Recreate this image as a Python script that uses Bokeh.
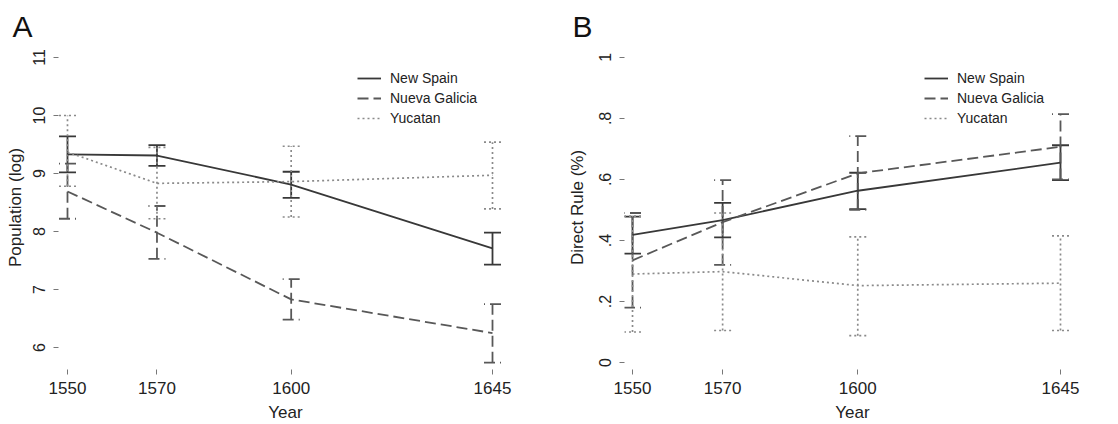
from bokeh.plotting import figure
from bokeh.layouts import row
from bokeh.models import ColumnDataSource, Whisker, TeeHead, FixedTicker, Legend, LegendItem, Range1d
from bokeh.embed import file_html
from bokeh.resources import INLINE

years = [1550, 1570, 1600, 1645]
series_names = ["New Spain", "Nueva Galicia", "Yucatan"]

# Panel A: Population (log)
pop_ns = [9.33, 9.31, 8.81, 7.71]
pop_ns_lo = [9.02, 9.13, 8.58, 7.43]
pop_ns_hi = [9.64, 9.49, 9.03, 7.98]
pop_ng = [8.69, 7.98, 6.83, 6.25]
pop_ng_lo = [8.22, 7.53, 6.48, 5.74]
pop_ng_hi = [9.17, 8.44, 7.18, 6.75]
pop_yu = [9.37, 8.83, 8.86, 8.97]
pop_yu_lo = [8.78, 8.22, 8.25, 8.39]
pop_yu_hi = [10.0, 9.45, 9.47, 9.54]

# Panel B: Direct Rule (%)
dr_ns = [0.418, 0.467, 0.563, 0.655]
dr_ns_lo = [0.357, 0.41, 0.503, 0.598]
dr_ns_hi = [0.478, 0.523, 0.622, 0.712]
dr_ng = [0.335, 0.46, 0.62, 0.707]
dr_ng_lo = [0.18, 0.32, 0.50, 0.60]
dr_ng_hi = [0.49, 0.598, 0.742, 0.814]
dr_yu = [0.29, 0.298, 0.252, 0.26]
dr_yu_lo = [0.10, 0.105, 0.088, 0.105]
dr_yu_hi = [0.48, 0.49, 0.412, 0.415]

pop_ticks = [6, 7, 8, 9, 10, 11]
dr_ticks = [0, 0.2, 0.4, 0.6, 0.8, 1.0]
dr_tick_labels = {0: "0", 0.2: ".2", 0.4: ".4", 0.6: ".6", 0.8: ".8", 1.0: "1"}

FONT = "Liberation Sans"
styles = [
    dict(color="#383838", dash="solid", width=1.8),
    dict(color="#585858", dash="11 5", width=1.8),
    dict(color="#8a8a8a", dash="2 3", width=1.7),
]


def make_panel(letter, ylabel, data, yrange, yticks, ylabels, xrange, width, left, right):
    p = figure(width=width, height=424, output_backend="svg", toolbar_location=None,
               x_range=Range1d(*xrange), y_range=Range1d(*yrange),
               min_border_left=left, min_border_right=right, min_border_top=45, min_border_bottom=54)
    p.outline_line_color = None
    p.xgrid.grid_line_color = None
    p.ygrid.grid_line_color = None
    p.background_fill_color = "white"

    p.title.text = letter
    p.title.text_font = FONT
    p.title.text_font_size = "30px"
    p.title.text_font_style = "normal"
    p.title.text_color = "#111111"
    p.title.align = "left"
    p.title.offset = -(left - 12)
    p.title.standoff = 6

    for ax in (p.xaxis[0], p.yaxis[0]):
        ax.axis_line_color = None
        ax.major_tick_line_color = "#777777"
        ax.major_tick_in = 0
        ax.major_tick_out = 5
        ax.minor_tick_line_color = None
        ax.major_label_text_font = FONT
        ax.major_label_text_color = "#222222"
        ax.axis_label_text_font = FONT
        ax.axis_label_text_font_style = "normal"
        ax.axis_label_text_color = "#222222"

    p.xaxis.ticker = FixedTicker(ticks=years)
    p.xaxis.major_label_text_font_size = "17px"
    p.xaxis.major_label_standoff = 7
    p.xaxis.axis_label = "Year"
    p.xaxis.axis_label_text_font_size = "17px"
    p.xaxis.axis_label_standoff = 6

    p.yaxis.ticker = FixedTicker(ticks=yticks)
    if ylabels:
        p.yaxis.major_label_overrides = ylabels
    p.yaxis.major_label_orientation = "vertical"
    p.yaxis.major_label_text_font_size = "16px"
    p.yaxis.major_label_standoff = 8
    p.yaxis.axis_label = ylabel
    p.yaxis.axis_label_text_font_size = "17px"
    p.yaxis.axis_label_standoff = 6 if letter == "A" else 10

    items = []
    for name, (mid, lo, hi), st in zip(series_names, data, styles):
        src = ColumnDataSource(dict(x=years, y=mid, lo=lo, hi=hi))
        r = p.line("x", "y", source=src, line_color=st["color"], line_dash=st["dash"],
                   line_width=st["width"])
        w = Whisker(base="x", upper="hi", lower="lo", source=src, dimension="height",
                    line_color=st["color"], line_dash=st["dash"], line_width=st["width"],
                    upper_head=TeeHead(size=17, line_color=st["color"], line_dash=st["dash"], line_width=st["width"]),
                    lower_head=TeeHead(size=17, line_color=st["color"], line_dash=st["dash"], line_width=st["width"]))
        p.add_layout(w)
        items.append(LegendItem(label=name, renderers=[r]))

    leg = Legend(items=items, border_line_color=None, background_fill_alpha=0,
                 label_text_font=FONT, label_text_font_size="14px", label_text_color="#222222",
                 glyph_width=24, glyph_height=16, label_height=16, spacing=4,
                 label_standoff=9, padding=0, margin=0)
    p.add_layout(leg)
    return p, leg


pa, lega = make_panel("A", "Population (log)",
                      [(pop_ns, pop_ns_lo, pop_ns_hi), (pop_ng, pop_ng_lo, pop_ng_hi), (pop_yu, pop_yu_lo, pop_yu_hi)],
                      (5.622, 11.206), pop_ticks, None, (1547.99, 1649.47), 560, 58, 48)
lega.location = (357 - 58, 370 - 127)

pb, legb = make_panel("B", "Direct Rule (%)",
                      [(dr_ns, dr_ns_lo, dr_ns_hi), (dr_ng, dr_ng_lo, dr_ng_hi), (dr_yu, dr_yu_lo, dr_yu_hi)],
                      (-0.0229, 1.039), dr_ticks, dr_tick_labels, (1548.22, 1649.44), 558, 64, 38)
legb.location = (924 - 624, 370 - 127)

layout = row(pa, pb)
open("out.html", "w").write(file_html(layout, INLINE))
